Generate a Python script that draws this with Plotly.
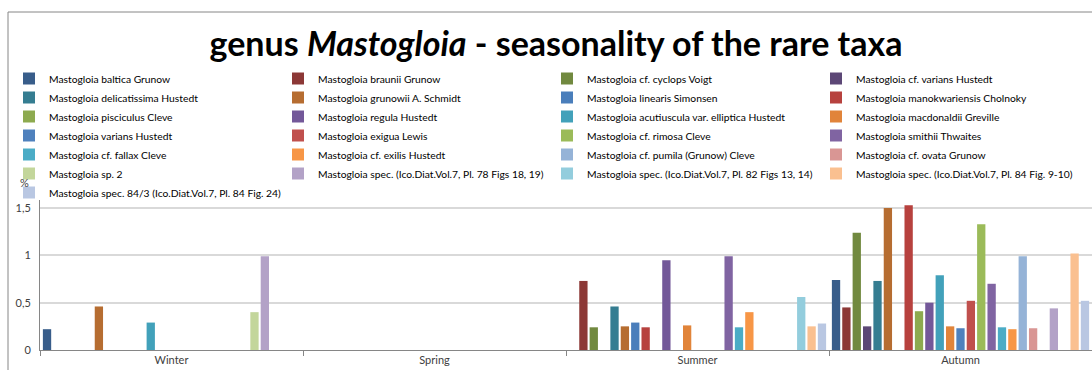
import plotly.graph_objects as go

seasons = ["Winter", "Spring", "Summer", "Autumn"]

taxa = [
    "Mastogloia baltica Grunow",
    "Mastogloia braunii Grunow",
    "Mastogloia cf. cyclops Voigt",
    "Mastogloia cf. varians Hustedt",
    "Mastogloia delicatissima Hustedt",
    "Mastogloia grunowii A. Schmidt",
    "Mastogloia linearis Simonsen",
    "Mastogloia manokwariensis Cholnoky",
    "Mastogloia pisciculus Cleve",
    "Mastogloia regula Hustedt",
    "Mastogloia acutiuscula var. elliptica Hustedt",
    "Mastogloia macdonaldii Greville",
    "Mastogloia varians Hustedt",
    "Mastogloia exigua Lewis",
    "Mastogloia cf. rimosa Cleve",
    "Mastogloia smithii Thwaites",
    "Mastogloia cf. fallax Cleve",
    "Mastogloia cf. exilis Hustedt",
    "Mastogloia cf. pumila (Grunow) Cleve",
    "Mastogloia cf. ovata Grunow",
    "Mastogloia sp. 2",
    "Mastogloia spec. (Ico.Diat.Vol.7, Pl. 78 Figs 18, 19)",
    "Mastogloia spec. (Ico.Diat.Vol.7, Pl. 82 Figs 13, 14)",
    "Mastogloia spec. (Ico.Diat.Vol.7, Pl. 84 Fig. 9-10)",
    "Mastogloia spec. 84/3 (Ico.Diat.Vol.7, Pl. 84 Fig. 24)",
]

N = None
# values (%) per season, in the order of `taxa`
winter = [0.22, N, N, N, N, 0.46, N, N, N, N, 0.29, N, N, N, N, N, N, N, N, N, 0.40, 0.99, N, N, N]
spring = [N] * 25
summer = [N, 0.73, 0.24, N, 0.46, 0.25, 0.29, 0.24, N, 0.95, N, 0.26, N, N, N, 0.99, 0.24, 0.40, N, N, N, N, 0.56, 0.25, 0.28]
autumn = [0.74, 0.45, 1.24, 0.25, 0.73, 1.50, N, 1.53, 0.41, 0.50, 0.79, 0.25, 0.23, 0.52, 1.33, 0.70, 0.24, 0.22, 0.99, 0.23, N, 0.44, N, 1.02, 0.52]

colors = [
    "#385D8A", "#8C3836", "#71893F", "#5C4776", "#357D91", "#B66D31",
    "#4A7EBB", "#B7413E", "#8DAA4F", "#735899", "#42A1BA", "#E1843A",
    "#4F81BD", "#C0504D", "#9BBB59", "#8064A2", "#4BACC6", "#F79646",
    "#95B3D7", "#D99694", "#C3D69B", "#B3A2C7", "#93CDDD", "#FAC090",
    "#B9C7E2",
]

FONT = "Lato"
TXT = "#404040"

# plot area geometry (px): y=0 at 350, plot top at 200, x from 40 to 1092
PW, PH = 1052, 150

fig = go.Figure()
for i, name in enumerate(taxa):
    fig.add_trace(go.Bar(
        x=seasons,
        y=[winter[i], spring[i], summer[i], autumn[i]],
        name=name,
        marker=dict(color=colors[i], line=dict(width=0)),
    ))

fig.update_layout(
    width=1092, height=370,
    margin=dict(l=40, r=0, t=200, b=20, autoexpand=False),
    paper_bgcolor="white", plot_bgcolor="white",
    barmode="group", bargap=0.014, bargroupgap=0.2,
    separators=", ",
    font=dict(family=FONT, size=11, color=TXT),
    title=dict(
        text="<b>genus <i>Mastogloia</i> - seasonality of the rare taxa</b>",
        x=556 / 1092, xref="container", xanchor="center",
        y=1 - 44 / 370, yref="container", yanchor="middle",
        font=dict(family=FONT, size=34, color="black"),
    ),
    showlegend=True,
    legend=dict(
        orientation="h",
        xref="paper", yref="paper",
        x=(9 - 40) / PW, xanchor="left",
        y=(350 - 64) / PH, yanchor="top",
        entrywidth=224, entrywidthmode="pixels",
        font=dict(family=FONT, size=10.3, color="black"),
        bgcolor="rgba(0,0,0,0)",
        traceorder="normal",
    ),
    xaxis=dict(
        type="category",
        showline=True, linecolor="#868686", linewidth=1,
        ticks="outside", tickson="boundaries", ticklen=5, tickcolor="#868686",
        showgrid=False,
        tickfont=dict(family=FONT, size=11, color=TXT),
    ),
    yaxis=dict(
        range=[0, 150 / 94.6],
        tickvals=[0, 0.5, 1, 1.5],
        ticktext=["0", "0,5", "1", "1,5"],
        showline=True, linecolor="#868686", linewidth=1,
        showgrid=True, gridcolor="#D9D9D9", gridwidth=1.5,
        zeroline=False,
        ticks="", ticklabelstandoff=6,
        tickfont=dict(family=FONT, size=11, color=TXT),
    ),
    shapes=[
        dict(type="rect", xref="paper", yref="paper",
             x0=(8 - 40) / PW, x1=1.2, y0=-0.5, y1=(350 - 12) / PH,
             line=dict(color="#868686", width=1), fillcolor="rgba(0,0,0,0)",
             layer="below"),
    ],
    annotations=[
        dict(text="%", xref="paper", yref="paper",
             x=(24 - 40) / PW, y=(350 - 182) / PH,
             xanchor="center", yanchor="middle", showarrow=False,
             font=dict(family=FONT, size=11, color=TXT)),
    ],
)

fig.write_html("out.html")
